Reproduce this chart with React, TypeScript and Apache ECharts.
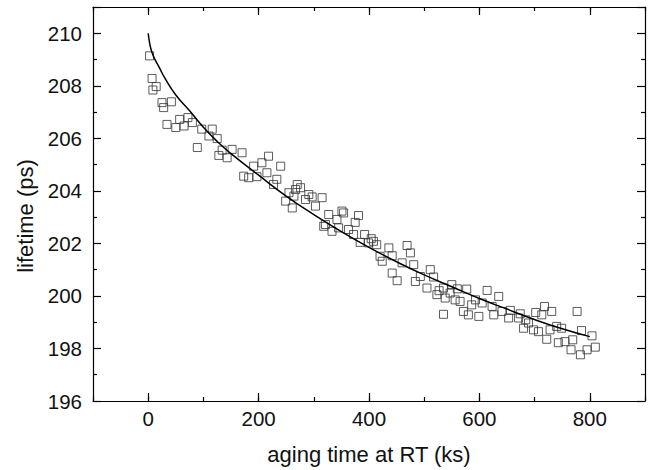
import React, { useEffect, useRef } from "react";
import * as echarts from "echarts";

const agingTime = [
  2.5, 7, 8.5, 14.5, 25, 28, 34, 42, 50, 57, 65, 72, 80, 89, 97, 110, 116, 125, 128, 134,
  143, 152, 170, 173, 182, 191, 197, 206, 215, 218, 227, 233, 240, 249, 255, 261, 264, 267, 270, 276,
  285, 291, 297, 303, 315, 318, 321, 327, 333, 342, 345, 351, 354, 363, 372, 375, 381, 384, 392, 399,
  404, 408, 414, 420, 424, 436, 442, 442, 451, 460, 469, 475, 481, 484, 493, 505, 511, 517, 523, 527,
  535, 535, 538, 547, 550, 556, 560, 565, 571, 577, 580, 586, 593, 599, 605, 614, 623, 626, 635, 641,
  653, 656, 671, 674, 680, 684, 689, 698, 702, 707, 713, 718, 722, 728, 731, 740, 743, 749, 755, 766,
  769, 777, 783, 785, 795, 804, 810,
];
const lifetime = [
  209.14, 208.28, 207.84, 207.97, 207.36, 207.17, 206.53, 207.39, 206.41, 206.72, 206.47, 206.79, 206.6, 205.65, 206.35, 206.09, 206.35, 205.99, 205.35, 205.55,
  205.26, 205.58, 205.45, 204.56, 204.5, 204.94, 204.54, 205.07, 204.69, 205.32, 204.24, 204.44, 204.94, 203.61, 203.93, 203.35, 203.8, 204.05, 204.24, 204.12,
  203.67, 203.86, 203.77, 203.42, 203.74, 202.65, 202.72, 203.1, 202.46, 202.91, 202.59, 203.23, 203.16, 202.53, 202.34, 202.8, 203.06, 202.04, 202.34, 202.02,
  202.18, 202.08, 201.95, 201.51, 201.32, 201.83, 201.53, 200.87, 200.58, 201.26, 201.92, 201.64, 201.19, 200.55, 200.74, 200.3, 201.0, 200.72, 200.05, 200.2,
  200.3, 199.3, 199.92, 200.11, 200.43, 199.85, 200.27, 199.79, 199.41, 200.26, 199.28, 199.66, 199.85, 199.22, 199.73, 200.21, 199.6, 199.28, 199.98, 199.41,
  199.16, 199.45, 199.16, 199.32, 198.77, 199.09, 198.97, 198.71, 199.37, 198.64, 199.28, 199.6, 198.35, 198.71, 199.41, 198.84, 198.22, 198.77, 198.26, 197.95,
  198.33, 199.41, 197.76, 198.68, 197.95, 198.48, 198.05,
];

const fitTime = [0, 2, 5, 10, 20, 30, 50, 75, 100, 125, 150, 200, 250, 300, 350, 400, 450, 500, 550, 600, 650, 700, 750, 800];
const fitLifetime = [210.0, 209.7, 209.4, 209.1, 208.7, 208.3, 207.65, 207.05, 206.42, 205.88, 205.42, 204.6, 203.8, 203.1, 202.45, 201.85, 201.3, 200.8, 200.35, 199.9, 199.5, 199.1, 198.75, 198.45];

const xMajorTicks = [0, 200, 400, 600, 800];

export default function App() {
  const ref = useRef<HTMLDivElement>(null);
  useEffect(() => {
    if (!ref.current) return;
    const chart = echarts.init(ref.current, null, { renderer: "svg" });
    const font = "Liberation Sans, Arial, sans-serif";
    const lineStyle = { color: "#000", width: 1.2 };
    const baseX = {
      type: "value" as const,
      min: -100,
      max: 900,
      interval: 100,
      splitLine: { show: false },
    };
    const baseY = {
      type: "value" as const,
      min: 196,
      max: 211,
      interval: 2,
      splitLine: { show: false },
    };
    chart.setOption({
      animation: false,
      backgroundColor: "#fff",
      grid: { left: 93, right: 12, top: 7, bottom: 69, containLabel: false },
      xAxis: [
        {
          ...baseX,
          position: "bottom",
          axisLine: { show: true, onZero: false, lineStyle },
          axisTick: { show: true, inside: true, length: 8, lineStyle, customValues: xMajorTicks },
          axisLabel: { show: true, customValues: xMajorTicks, fontSize: 20.5, color: "#111", fontFamily: font, margin: 7 },
          name: "aging time at RT (ks)",
          nameLocation: "middle",
          nameGap: 42,
          nameTextStyle: { fontSize: 22, color: "#111", fontFamily: font },
        },
        {
          ...baseX,
          position: "bottom",
          axisLine: { show: false, onZero: false },
          axisTick: { show: true, inside: true, length: 4, lineStyle },
          axisLabel: { show: false },
        },
        {
          ...baseX,
          position: "top",
          axisLine: { show: true, onZero: false, lineStyle },
          axisTick: { show: true, inside: true, length: 8, lineStyle, customValues: xMajorTicks },
          axisLabel: { show: false },
        },
        {
          ...baseX,
          position: "top",
          axisLine: { show: false, onZero: false },
          axisTick: { show: true, inside: true, length: 4, lineStyle },
          axisLabel: { show: false },
        },
      ],
      yAxis: [
        {
          ...baseY,
          position: "left",
          axisLine: { show: true, onZero: false, lineStyle },
          axisTick: { show: true, inside: true, length: 8, lineStyle },
          minorTick: { show: true, splitNumber: 2, length: 4, lineStyle },
          axisLabel: {
            fontSize: 20.5,
            color: "#111",
            fontFamily: font,
            margin: 11,
            formatter: (v: number) => (v % 2 === 0 ? String(v) : ""),
          },
        },
        {
          ...baseY,
          position: "right",
          axisLine: { show: true, onZero: false, lineStyle },
          axisTick: { show: true, inside: true, length: 8, lineStyle },
          minorTick: { show: true, splitNumber: 2, length: 4, lineStyle },
          axisLabel: { show: false },
        },
      ],
      graphic: [
        {
          type: "text",
          x: 25,
          y: 216,
          rotation: Math.PI / 2,
          style: {
            text: "lifetime (ps)",
            fontSize: 22,
            fill: "#111",
            fontFamily: font,
            align: "center",
            verticalAlign: "middle",
          },
        },
      ],
      series: [
        {
          type: "scatter",
          xAxisIndex: 0,
          yAxisIndex: 0,
          symbol: "rect",
          symbolSize: 8,
          itemStyle: { color: "rgba(255,255,255,0)", borderColor: "#333", borderWidth: 1 },
          data: agingTime.map((t, i) => [t, lifetime[i]]),
          z: 2,
        },
        {
          type: "line",
          xAxisIndex: 0,
          yAxisIndex: 0,
          smooth: true,
          showSymbol: false,
          symbol: "none",
          lineStyle: { color: "#000", width: 1.5 },
          data: fitTime.map((t, i) => [t, fitLifetime[i]]),
          z: 3,
        },
      ],
    });
    return () => chart.dispose();
  }, []);
  return (
    <div
      ref={ref}
      style={{ position: "absolute", left: 0, top: 0, width: 657, height: 470, background: "#fff" }}
    />
  );
}
